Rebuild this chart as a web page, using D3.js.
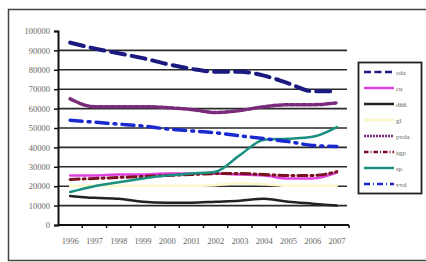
<!DOCTYPE html>
<html>
<head>
<meta charset="utf-8">
<script src="https://cdn.jsdelivr.net/npm/d3@7/dist/d3.min.js"></script>
<style>
  html, body { margin: 0; padding: 0; background: #fff; }
  svg { display: block; }
  text { font-family: "Liberation Serif", "DejaVu Serif", serif; fill: #666; }
</style>
</head>
<body>
<svg id="chart" width="426" height="262"></svg>
<script>
// Data
const years = ["1996", "1997", "1998", "1999", "2000", "2001", "2002", "2003", "2004", "2005", "2006", "2007"];
const yTicks = [0, 10000, 20000, 30000, 40000, 50000, 60000, 70000, 80000, 90000, 100000];

const cda  = [94000, 91000, 88500, 86000, 83000, 80500, 79000, 79000, 77000, 73000, 69000, 69000];
const cu   = [25500, 25500, 26000, 26000, 26500, 26500, 26500, 26000, 25500, 24000, 24000, 27000];
const d66  = [15000, 14000, 13500, 12000, 11500, 11500, 12000, 12500, 13500, 12000, 11000, 10000];
const gl   = [20200, 20200, 20200, 20200, 20200, 20200, 20500, 21500, 21000, 20200, 20200, 20200];
const pvda = [65000, 61000, 61000, 61000, 60500, 59500, 58000, 59000, 61000, 62000, 62000, 63000];
const sgp  = [23500, 24000, 24500, 25000, 25500, 26000, 26500, 26500, 26000, 25500, 25500, 27500];
const sp   = [17000, 20000, 22000, 24000, 25500, 26500, 27500, 36000, 44000, 44500, 45500, 50500];
const vvd  = [54000, 53000, 52000, 51000, 49500, 48500, 47500, 46000, 44500, 43000, 41000, 40500];

const seriesNames = ["cda", "cu", "d66", "gl", "pvda", "sgp", "sp", "vvd"];
const seriesValues = [cda, cu, d66, gl, pvda, sgp, sp, vvd];

// Styles per series (Excel-ish palette)
const styles = {
  cda:  { color: "#1a1a80", width: 4,   dash: "14,7" },
  cu:   { color: "#e040e0", width: 2.5, dash: null },
  d66:  { color: "#222222", width: 2.5, dash: null },
  gl:   { color: "#fbf7c8", width: 2.5, dash: null },
  pvda: { color: "#7a2a7a", width: 3.5, dash: "4,2" },
  sgp:  { color: "#7a1020", width: 3,   dash: "9,4,2,4" },
  sp:   { color: "#1a9080", width: 2.5, dash: null },
  vvd:  { color: "#1a2ad0", width: 3.5, dash: "12,6,2,6" }
};

const svg = d3.select("#chart");

// Outer frame
svg.append("rect")
  .attr("x", 8.5).attr("y", 9.5)
  .attr("width", 430).attr("height", 251)
  .attr("fill", "none")
  .attr("stroke", "#444")
  .attr("stroke-width", 1.5);

const plot = { left: 58, right: 349, top: 31, bottom: 225 };

const x = d3.scaleBand()
  .domain(years)
  .range([plot.left, plot.right]);

const y = d3.scaleLinear()
  .domain([0, 100000])
  .range([plot.bottom, plot.top]);

// Gridlines
svg.append("g")
  .selectAll("line")
  .data(yTicks.filter(t => t > 0 && t < 100000))
  .join("line")
  .attr("x1", plot.left).attr("x2", plot.right - 2)
  .attr("y1", d => y(d)).attr("y2", d => y(d))
  .attr("stroke", "#2a2a2a")
  .attr("stroke-width", 1.6);

// Y axis
const yAxis = svg.append("g")
  .attr("transform", `translate(${plot.left},0)`)
  .call(d3.axisLeft(y).tickValues(yTicks).tickSize(4).tickPadding(4).tickFormat(d3.format("d")));
yAxis.select(".domain").attr("stroke", "#111").attr("stroke-width", 2);
yAxis.selectAll(".tick line").attr("stroke", "#111").attr("stroke-width", 1.5);
yAxis.selectAll(".tick text")
  .attr("font-size", "8.5px")
  .attr("font-family", "Liberation Serif, serif")
  .attr("fill", "#666");

// X axis: ticks at category boundaries, labels centred
const xAxisG = svg.append("g");
xAxisG.append("line")
  .attr("x1", plot.left).attr("x2", plot.right)
  .attr("y1", y(0)).attr("y2", y(0))
  .attr("stroke", "#111").attr("stroke-width", 2);
xAxisG.selectAll("line.tick")
  .data(years)
  .join("line")
  .attr("class", "tick")
  .attr("x1", d => x(d) + x.bandwidth()).attr("x2", d => x(d) + x.bandwidth())
  .attr("y1", y(0)).attr("y2", y(0) + 3)
  .attr("stroke", "#111").attr("stroke-width", 1.5);
xAxisG.selectAll("text")
  .data(years)
  .join("text")
  .attr("x", d => x(d) + x.bandwidth() / 2)
  .attr("y", 244)
  .attr("text-anchor", "middle")
  .attr("font-size", "8.5px")
  .text(d => d);

// Series lines
const line = d3.line()
  .x((d, i) => x(years[i]) + x.bandwidth() / 2)
  .y(d => y(d))
  .curve(d3.curveMonotoneX);

svg.append("g")
  .selectAll("path")
  .data(seriesNames)
  .join("path")
  .attr("d", (name, i) => line(seriesValues[i]))
  .attr("fill", "none")
  .attr("stroke", name => styles[name].color)
  .attr("stroke-width", name => styles[name].width)
  .attr("stroke-dasharray", name => styles[name].dash)
  .attr("stroke-linecap", "round")
  .attr("stroke-linejoin", "round");

// Legend
const legend = svg.append("g");
legend.append("rect")
  .attr("x", 358.5).attr("y", 62.5)
  .attr("width", 63).attr("height", 131)
  .attr("fill", "#fff")
  .attr("stroke", "#222")
  .attr("stroke-width", 1.8);

const legendY = d3.scalePoint()
  .domain(seriesNames)
  .range([72, 184]);

const items = legend.selectAll("g.item")
  .data(seriesNames)
  .join("g")
  .attr("class", "item")
  .attr("transform", d => `translate(0,${legendY(d)})`);

items.append("line")
  .attr("x1", 364).attr("x2", 394)
  .attr("stroke", d => styles[d].color)
  .attr("stroke-width", d => Math.min(styles[d].width, 2.5))
  .attr("stroke-dasharray", d => styles[d].dash ? styles[d].dash.split(",").map(v => v / 2).join(",") : null);

items.append("text")
  .attr("x", 396)
  .attr("y", 2.5)
  .attr("font-size", "7px")
  .text(d => d);
</script>
</body>
</html>
